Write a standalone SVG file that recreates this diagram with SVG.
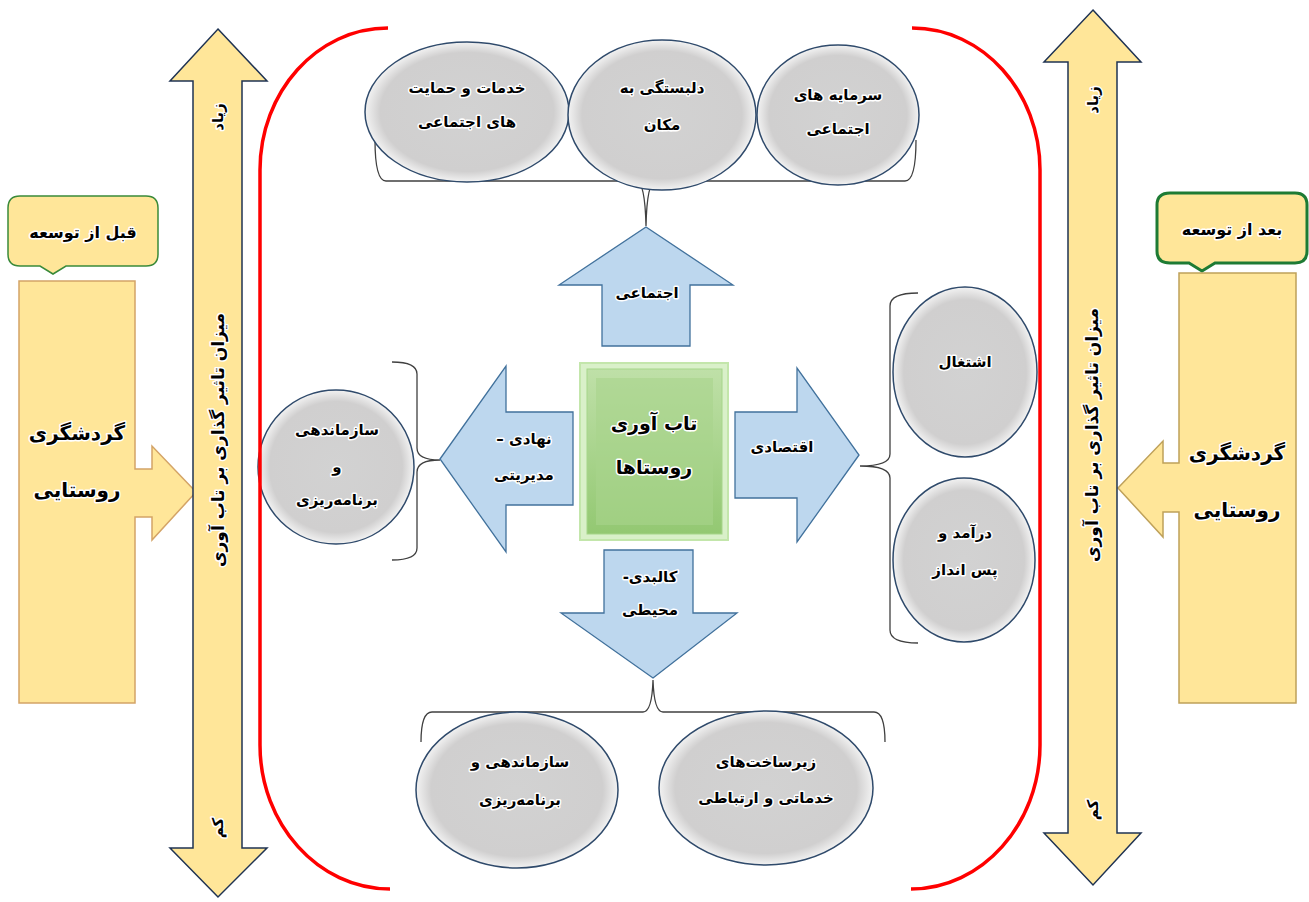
<svg xmlns="http://www.w3.org/2000/svg" width="1309" height="902" viewBox="0 0 1309 902">
<defs>
<radialGradient id="gEll" cx="50%" cy="50%" r="50%">
<stop offset="0" stop-color="#d2d2d2"/>
<stop offset="0.85" stop-color="#d0cfcf"/>
<stop offset="1" stop-color="#f2f2f2"/>
</radialGradient>
<linearGradient id="gGreen" x1="0" y1="0" x2="0" y2="1">
<stop offset="0" stop-color="#bfe0a8"/>
<stop offset="1" stop-color="#93c872"/>
</linearGradient>
</defs>
<style>
.t{font-family:"DejaVu Sans",sans-serif;font-weight:bold;fill:#000;text-anchor:middle;direction:rtl;stroke:#fff;stroke-width:3px;stroke-linejoin:round;paint-order:stroke}
.s15{font-size:15px}
.s16{font-size:16px}
.s17{font-size:17px}
.s19{font-size:19px}
.s20{font-size:20px}
.ell{fill:url(#gEll);stroke:#2f4a6b;stroke-width:1.5}
.blue{fill:#bdd7ee;stroke:#41719c;stroke-width:1.3}
.yel{fill:#ffe699;stroke:#1f3353;stroke-width:1.5}
.box{fill:#ffe699;stroke:#d4a467;stroke-width:1.5}
.brace{fill:none;stroke:#404040;stroke-width:1.3}
.red{fill:none;stroke:#ff0000;stroke-width:3.5}
</style>

<g id="connectors">
<path class="brace" d="M375,140 Q375,181 386,181 L636,181 Q645,181 646,226 Q647,181 656,181 L905,181 Q916,181 916,140"/>
<path class="brace" d="M918,293 Q890,293 890,306 L890,454 Q890,466 860,466 Q890,466 890,478 L890,630 Q890,643 918,643"/>
<path class="brace" d="M392,362 Q417,362 417,374 L417,448 Q417,460 440,460 Q417,460 417,472 L417,548 Q417,560 392,560"/>
<path class="brace" d="M421,742 Q421,712 432,712 L643,712 Q652,712 653,680 Q654,712 663,712 L874,712 Q885,712 885,742"/>
</g>

<g id="before-callout">
<path d="M20,196 H146 Q158,196 158,208 V254 Q158,266 146,266 H66 L53,274 L40,266 H20 Q8,266 8,254 V208 Q8,196 20,196 Z" fill="#ffe699" stroke="#3a8a3a" stroke-width="1.5"/>
<text class="t s16" x="83" y="238">قبل از توسعه</text>
</g>

<g id="before-tourism">
<path class="box" d="M19,281 H135 V469 H152 V446 L196,492 L152,540 V517 H135 V703 H19 Z"/>
<text class="t s20" x="77" y="440">گردشگری</text>
<text class="t s20" x="77" y="497">روستایی</text>
</g>

<g id="after-callout">
<path d="M1170,193 H1295 Q1307,193 1307,205 V251 Q1307,263 1295,263 H1215 L1202,271 L1189,263 H1170 Q1157,263 1157,251 V205 Q1157,193 1170,193 Z" fill="#ffe699" stroke="#1e7b34" stroke-width="3"/>
<text class="t s16" x="1232" y="235">بعد از توسعه</text>
</g>

<g id="after-tourism">
<path class="box" d="M1296,273 V703 H1179 V512 H1163 V537 L1118,488 L1163,441 V463 H1179 V273 Z" style="stroke:#bfa15a"/>
<text class="t s20" x="1237" y="460">گردشگری</text>
<text class="t s20" x="1237" y="517">روستایی</text>
</g>

<g id="left-scale">
<path class="yel" d="M218,29 L267,81 H242 V848 H267 L218,897 L170,848 H193 V81 H170 Z"/>
<text class="t s15" transform="translate(223,117) rotate(-90)">زیاد</text>
<text class="t s15" transform="translate(223,828) rotate(-90)">کم</text>
<text class="t s17" transform="translate(224,440) rotate(-90)">میزان تاثیر گذاری بر تاب آوری</text>
</g>

<g id="right-scale">
<path class="yel" d="M1093,10 L1141,62 H1117 V833 H1141 L1093,885 L1044,833 H1068 V62 H1044 Z"/>
<text class="t s15" transform="translate(1098,100) rotate(-90)">زیاد</text>
<text class="t s15" transform="translate(1098,810) rotate(-90)">کم</text>
<text class="t s17" transform="translate(1098,435) rotate(-90)">میزان تاثیر گذاری بر تاب آوری</text>
</g>

<g id="social-services">
<ellipse class="ell" cx="467" cy="112" rx="102" ry="70"/>
<text class="t s15" x="467" y="93">خدمات و حمایت</text>
<text class="t s15" x="467" y="127">های اجتماعی</text>
</g>
<g id="place-attachment">
<ellipse class="ell" cx="662" cy="115" rx="94" ry="75"/>
<text class="t s15" x="662" y="93">دلبستگی به</text>
<text class="t s15" x="662" y="130">مکان</text>
</g>
<g id="social-capital">
<ellipse class="ell" cx="838" cy="115" rx="81" ry="70"/>
<text class="t s15" x="838" y="100">سرمایه های</text>
<text class="t s15" x="838" y="134">اجتماعی</text>
</g>

<g id="social-arrow">
<path class="blue" d="M646,227 L733,285 H690 V346 H602 V285 H559 Z"/>
<text class="t s15" x="647" y="298">اجتماعی</text>
</g>

<g id="institutional-arrow">
<path class="blue" d="M440,459 L506,366 V412 H573 V505 H506 V552 Z"/>
<text class="t s15" x="524" y="444">نهادی –</text>
<text class="t s15" x="524" y="480">مدیریتی</text>
</g>

<g id="economic-arrow">
<path class="blue" d="M859,455 L797,542 V498 H735 V412 H797 V368 Z"/>
<text class="t s15" x="782" y="452">اقتصادی</text>
</g>

<g id="physical-arrow">
<path class="blue" d="M653,678 L737,613 H693 V550 H604 V613 H561 Z"/>
<text class="t s15" x="650" y="582">کالبدی-</text>
<text class="t s15" x="650" y="615">محیطی</text>
</g>

<g id="center">
<rect x="580" y="363" width="148" height="177" fill="#d9f0c9" stroke="#c3e6ab" stroke-width="2"/>
<rect x="587" y="369" width="135" height="165" fill="url(#gGreen)" stroke="#a6d58a" stroke-width="1"/>
<rect x="596" y="378" width="117" height="147" fill="#a8d38c" opacity="0.6"/>
<text class="t s19" x="654" y="430">تاب آوری</text>
<text class="t s19" x="654" y="474">روستاها</text>
</g>

<g id="employment">
<ellipse class="ell" cx="965" cy="372" rx="72" ry="85"/>
<text class="t s15" x="965" y="367">اشتغال</text>
</g>
<g id="income">
<ellipse class="ell" cx="964" cy="560" rx="71" ry="82"/>
<text class="t s15" x="965" y="538">درآمد و</text>
<text class="t s15" x="965" y="575">پس انداز</text>
</g>

<g id="org-planning-left">
<ellipse class="ell" cx="336" cy="467" rx="78" ry="77"/>
<text class="t s15" x="337" y="435">سازماندهی</text>
<text class="t s15" x="337" y="472">و</text>
<text class="t s15" x="337" y="505">برنامه&#8204;ریزی</text>
</g>

<g id="org-planning-bottom">
<ellipse class="ell" cx="517" cy="790" rx="101" ry="78"/>
<text class="t s15" x="520" y="767">سازماندهی و</text>
<text class="t s15" x="520" y="805">برنامه&#8204;ریزی</text>
</g>
<g id="infrastructure">
<ellipse class="ell" cx="766" cy="788" rx="107" ry="77"/>
<text class="t s15" x="766" y="767">زیرساخت&#8204;های</text>
<text class="t s15" x="766" y="803">خدماتی و ارتباطی</text>
</g>

<g id="frame">
<path class="red" d="M388,28 C317,28 260,92 260,170 L260,745 C260,824 318,889 390,889"/>
<path class="red" d="M912,28 C983,28 1040,92 1040,170 L1040,745 C1040,824 982,889 911,889"/>
</g>
</svg>
